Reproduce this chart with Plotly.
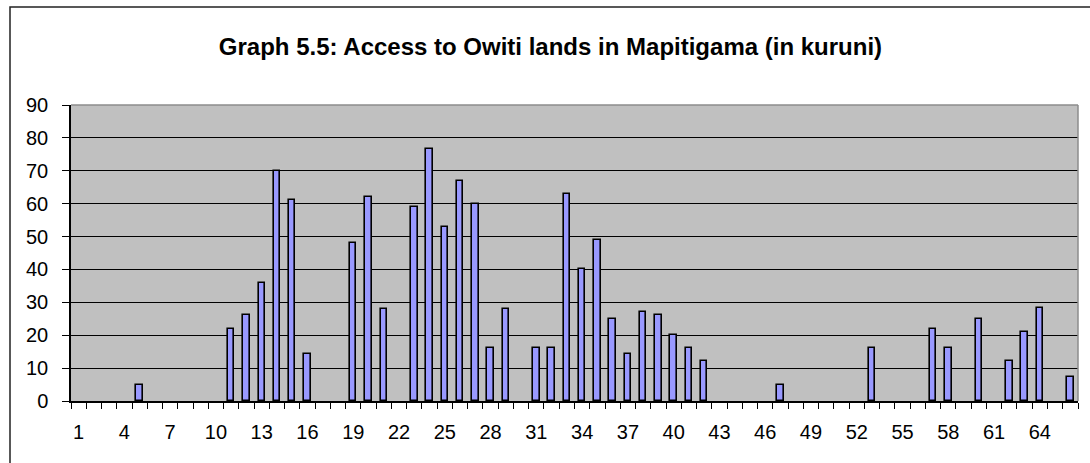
import plotly.graph_objects as go

categories = list(range(1, 67))
values = [
    None, None, None, None, 5, None, None, None, None, None,
    22, 26, 36, 70, 61, 14.3, None, None, 48, 62,
    28, None, 59, 76.7, 53, 67, 60, 16, 28, None,
    16, 16, 63, 40, 49, 25, 14.3, 27, 26, 20,
    16, 12.3, None, None, None, None, 5, None, None, None,
    None, None, 16, None, None, None, 22, 16, None, 25,
    None, 12.3, 21, 28.4, None, 7.4,
]
label_ticks = list(range(1, 67, 3))
y_ticks = list(range(0, 91, 10))
title_text = "Graph 5.5: Access to Owiti lands in Mapitigama (in kuruni)"

W, H = 1090, 463
ml, mr, mt, mb = 71, 12, 105, 62

fig = go.Figure()
fig.add_trace(go.Bar(
    x=categories, y=values, width=0.42,
    marker=dict(color="#9999FF", line=dict(color="#000000", width=1.6)),
    showlegend=False,
))

fig.update_layout(
    width=W, height=H,
    margin=dict(l=ml, r=mr, t=mt, b=mb, pad=0),
    paper_bgcolor="white",
    plot_bgcolor="#C0C0C0",
    font=dict(family="Liberation Sans, Arial, sans-serif", color="#000000", size=20),
    title=dict(
        text=title_text, x=0.505, xanchor="center", y=1 - 47 / H, yanchor="middle",
        yref="container",
        font=dict(size=24, weight=700, family="Liberation Sans, Arial, sans-serif"),
    ),
    xaxis=dict(
        range=[0.5, 66.5], tickmode="array", tickvals=label_ticks,
        ticktext=[str(v) for v in label_ticks],
        ticks="", showgrid=False, zeroline=False,
        showline=True, linecolor="#000000", linewidth=1.5,
        tickfont=dict(size=20),
        ticklabelstandoff=12,
        minor=dict(tickmode="linear", tick0=0.5, dtick=1, ticks="outside",
                   ticklen=6, tickcolor="#000000", tickwidth=1, showgrid=False),
    ),
    yaxis=dict(
        range=[0, 90], tickmode="array", tickvals=y_ticks,
        ticks="outside", ticklen=7, tickcolor="#000000", tickwidth=1,
        showgrid=True, gridcolor="#000000", gridwidth=1,
        zeroline=False, showline=True, linecolor="#000000", linewidth=1.5,
        tickfont=dict(size=20), ticklabelstandoff=10,
    ),
    bargap=0,
)

pw = W - ml - mr
ph = H - mt - mb
# plot area gray frame top and right
fig.add_shape(type="line", xref="paper", yref="paper", x0=0, x1=1, y0=1, y1=1,
              line=dict(color="#8C8C8C", width=1.5), layer="above")
fig.add_shape(type="line", xref="paper", yref="paper", x0=1, x1=1, y0=0, y1=1,
              line=dict(color="#8C8C8C", width=1.5), layer="above")
# outer chart border (left and top visible)
fig.add_shape(type="rect", xref="paper", yref="paper",
              x0=(10 - ml) / pw, x1=(W + 20 - ml) / pw,
              y0=(H - mb - (H + 20)) / ph, y1=(H - mb - 7) / ph,
              line=dict(color="#222222", width=1.5), fillcolor="rgba(0,0,0,0)",
              layer="above")

fig.write_html(
    "out.html",
    config={"displayModeBar": False},
    post_script="document.body.style.margin='0';document.body.style.overflow='hidden';",
)
